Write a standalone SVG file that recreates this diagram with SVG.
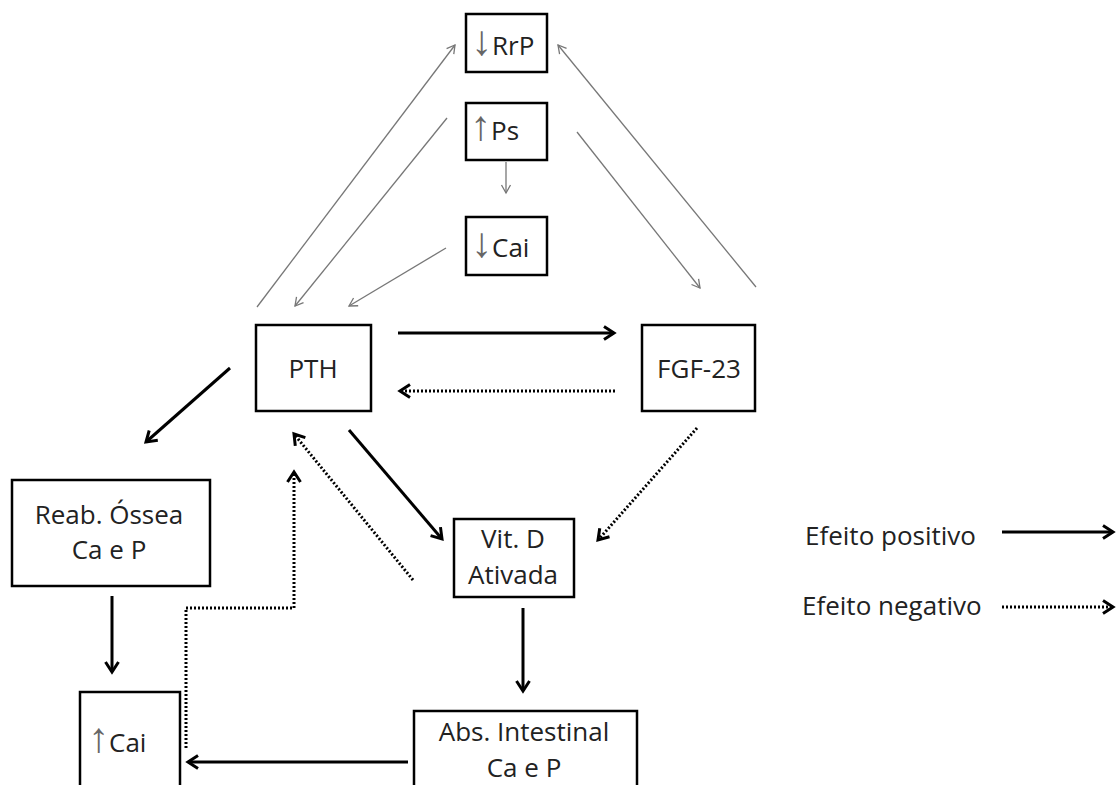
<svg xmlns="http://www.w3.org/2000/svg" width="1117" height="785" viewBox="0 0 1117 785">
<style>
.box{fill:#fff;stroke:#000;stroke-width:2.5}
.t{font-family:"Open Sans","Liberation Sans",sans-serif;font-size:26px;fill:#222}
.ts{font-family:"Open Sans","Liberation Sans",sans-serif;font-size:26px;fill:#222;text-anchor:middle}
.ar{font-family:"Liberation Sans","DejaVu Sans",sans-serif;font-size:42px;fill:#666}
.pos{fill:none;stroke:#000;stroke-width:3;marker-end:url(#mPos)}
.neg{fill:none;stroke:#000;stroke-width:3;stroke-dasharray:2 2;marker-end:url(#mPos)}
.thin{fill:none;stroke:#777;stroke-width:1.3;marker-end:url(#mThin)}
</style>
<defs>
<marker id="mPos" markerUnits="userSpaceOnUse" markerWidth="20" markerHeight="20" refX="0" refY="0" orient="auto" style="overflow:visible">
<path d="M-10,-6.5 L0,0 L-10,6.5" fill="none" stroke="#000" stroke-width="3"/>
</marker>
<marker id="mThin" markerUnits="userSpaceOnUse" markerWidth="14" markerHeight="14" refX="0" refY="0" orient="auto" style="overflow:visible">
<path d="M-8,-4.5 L0,0 L-8,4.5" fill="none" stroke="#777" stroke-width="1.3"/>
</marker>
</defs>
<rect width="1117" height="785" fill="#fff"/>
<g id="connectors">
<line class="thin" x1="257" y1="307" x2="455" y2="45"/>
<line class="thin" x1="447" y1="118" x2="295" y2="306"/>
<line class="thin" x1="446" y1="248" x2="349" y2="306"/>
<line class="thin" x1="506" y1="162" x2="506" y2="193"/>
<line class="thin" x1="577" y1="132" x2="700" y2="288"/>
<line class="thin" x1="756" y1="287" x2="558" y2="45"/>
<line class="pos" x1="398" y1="333" x2="614" y2="333"/>
<line class="neg" x1="615" y1="391" x2="400" y2="391"/>
<line class="pos" x1="230" y1="368" x2="146" y2="442"/>
<line class="pos" x1="349" y1="430" x2="442" y2="539"/>
<line class="neg" x1="413" y1="580" x2="294" y2="434"/>
<line class="neg" x1="697" y1="428" x2="598" y2="540"/>
<line class="pos" x1="112" y1="596" x2="112" y2="672"/>
<line class="pos" x1="523" y1="608" x2="523" y2="691"/>
<line class="pos" x1="408" y1="762" x2="188" y2="762"/>
<path class="neg" d="M186,748 L186,608 L294,608 L294,472"/>
<line class="pos" x1="1002" y1="532" x2="1113" y2="532"/>
<line class="neg" x1="1002" y1="607" x2="1113" y2="607"/>
</g>
<g id="rrp"><rect class="box" x="466" y="14" width="81" height="58"/><text x="471" y="55"><tspan class="ar">↓</tspan><tspan class="t">RrP</tspan></text></g>
<g id="ps"><rect class="box" x="466" y="103" width="81" height="57"/><text x="470" y="140"><tspan class="ar">↑</tspan><tspan class="t">Ps</tspan></text></g>
<g id="cai-down"><rect class="box" x="466" y="217" width="81" height="58"/><text x="471" y="257"><tspan class="ar">↓</tspan><tspan class="t">Cai</tspan></text></g>
<g id="pth"><rect class="box" x="256" y="325" width="115" height="86"/><text class="ts" x="313" y="378">PTH</text></g>
<g id="fgf23"><rect class="box" x="642" y="325" width="113" height="86"/><text class="ts" x="699" y="378">FGF-23</text></g>
<g id="reab"><rect class="box" x="12" y="480" width="198" height="106"/><text class="ts" x="109" y="524">Reab. Óssea</text><text class="ts" x="109" y="559">Ca e P</text></g>
<g id="vitd"><rect class="box" x="454" y="519" width="120" height="78"/><text class="ts" x="513" y="548">Vit. D</text><text class="ts" x="513" y="584">Ativada</text></g>
<g id="cai-up"><rect class="box" x="80" y="692" width="100" height="110"/><text x="88" y="752"><tspan class="ar">↑</tspan><tspan class="t">Cai</tspan></text></g>
<g id="abs"><rect class="box" x="414" y="711" width="223" height="90"/><text class="ts" x="524" y="741">Abs. Intestinal</text><text class="ts" x="524" y="777">Ca e P</text></g>
<g id="legend"><text class="t" x="805" y="545">Efeito positivo</text><text class="t" x="802" y="615">Efeito negativo</text></g>
</svg>
